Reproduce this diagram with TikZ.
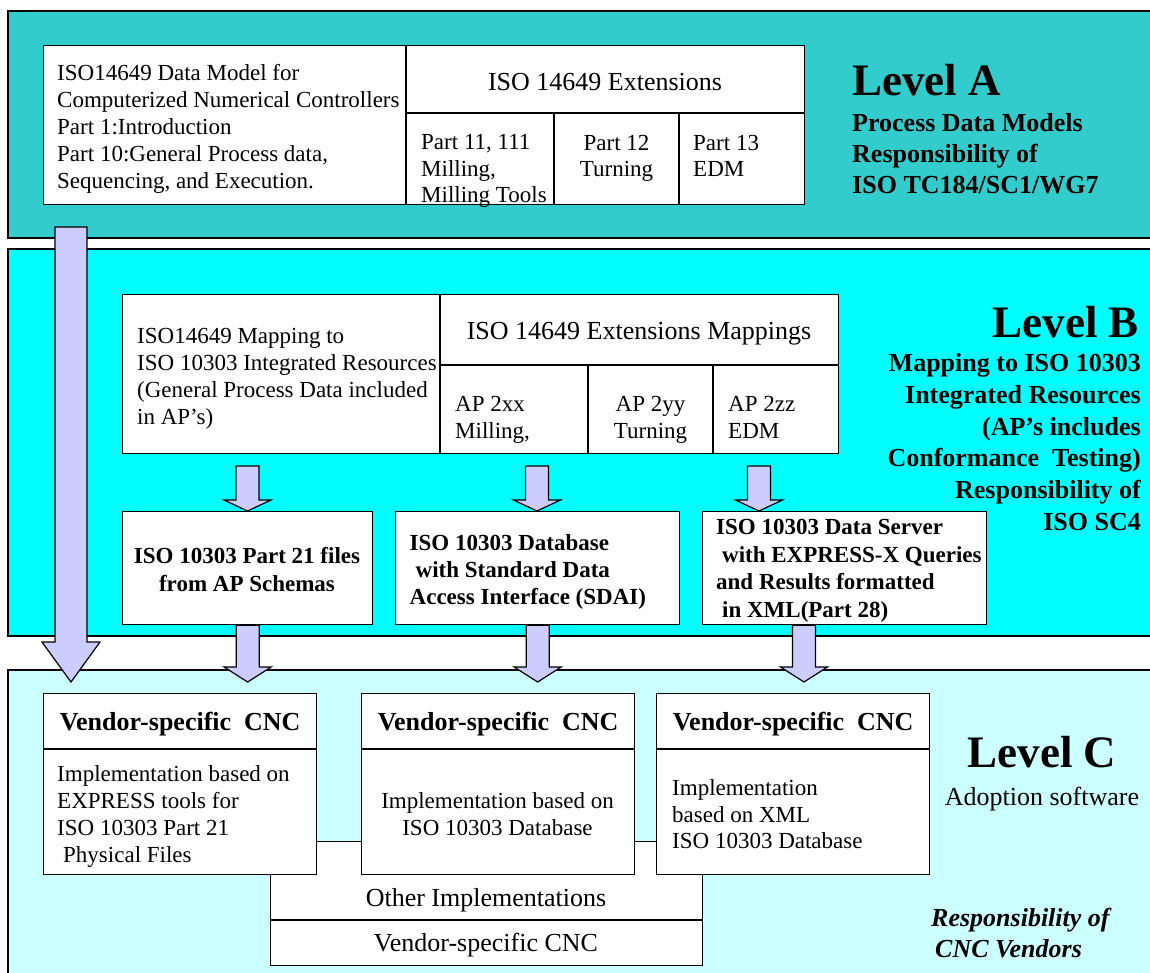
\documentclass[tikz,border=0pt]{standalone}
\usepackage{fontspec}
\setmainfont{Liberation Serif}
\usetikzlibrary{calc}

\definecolor{levelA}{HTML}{33CCCC}
\definecolor{levelB}{HTML}{00FFFF}
\definecolor{levelC}{HTML}{CCFFFF}
\definecolor{flow}{HTML}{CCCCFF}

\tikzset{
  panel/.style={draw=black, line width=1.6pt},
  grid/.style={draw=black, line width=1.3pt},
  boxnode/.style={draw=black, line width=1.3pt, fill=white, inner sep=0pt, anchor=north west},
  arrowshape/.style={fill=flow, draw=black, line width=1.2pt, line join=miter},
  body/.style={inner sep=0pt, yshift=-4pt, font=\fontsize{23}{27}\selectfont, align=left, execute at begin node=\strut},
  bodybf/.style={inner sep=0pt, yshift=-4pt, font=\fontsize{23}{27.5}\selectfont\bfseries, align=left, execute at begin node=\strut},
  head/.style={inner sep=0pt, font=\fontsize{26}{31}\selectfont},
  headbf/.style={inner sep=0pt, font=\fontsize{26}{31}\selectfont\bfseries},
  side/.style={inner sep=0pt, yshift=-4pt, font=\fontsize{26}{31}\selectfont\bfseries, execute at begin node=\strut},
  title/.style={inner sep=0pt, font=\fontsize{45}{50}\selectfont\bfseries},
}

% block arrow: start, tip, shaft half width, head half width, head length
\newcommand\blockarrow[5]{%
  \filldraw[arrowshape] let \p1=(#1), \p2=(#2) in
    (\x1-#3pt,\y1) -- (\x1-#3pt,\y2+#5pt) -- (\x1-#4pt,\y2+#5pt) -- (\x1,\y2)
    -- (\x1+#4pt,\y2+#5pt) -- (\x1+#3pt,\y2+#5pt) -- (\x1+#3pt,\y1) -- cycle;}

\begin{document}
\begin{tikzpicture}[x=1pt, y=-1pt]
\useasboundingbox (0,0) rectangle (1150,972);
\clip (0,0) rectangle (1150,972);

% ---------- level panels ----------
\filldraw[panel, fill=levelA] (8,11) rectangle (1165,238);
\filldraw[panel, fill=levelB] (8,249) rectangle (1165,636);
\filldraw[panel, fill=levelC] (8,670) rectangle (1165,995);

% ---------- Level A: ISO 14649 table ----------
\node[boxnode, minimum width=761pt, minimum height=159pt] (tA) at (43,45) {};
\draw[grid] (406,45) -- (406,204);
\draw[grid] (406,113) -- (804,113);
\draw[grid] (554,113) -- (554,204);
\draw[grid] (679,113) -- (679,204);

\node[body, anchor=north west] (a0) at (57,60.6)
  {ISO14649 Data Model for\\Computerized Numerical Controllers\\Part 1:Introduction\\Part 10:General Process data,\\Sequencing, and Execution.};
\node[head, anchor=base] (a1) at (605,90.6) {ISO 14649 Extensions};
\node[body, anchor=north west, font=\fontsize{23}{26.5}\selectfont] (a2) at (421,130.6) {Part 11, 111\\Milling,\\Milling Tools};
\node[body, anchor=north, align=center, font=\fontsize{23}{26.5}\selectfont] (a3) at (616.5,130.6) {Part 12\\Turning};
\node[body, anchor=north west, font=\fontsize{23}{26.5}\selectfont] (a4) at (693,130.6) {Part 13\\EDM};

\node[title, anchor=base west] (LA) at (852,95) {Level A};
\node[side, anchor=north west, align=left] (LAs) at (852,109)
  {Process Data Models\\Responsibility of\\ISO TC184/SC1/WG7};

% ---------- Level B: mapping table ----------
\node[boxnode, minimum width=716pt, minimum height=159pt] (tB) at (122,294) {};
\draw[grid] (440,294) -- (440,453);
\draw[grid] (440,365) -- (838,365);
\draw[grid] (588,365) -- (588,453);
\draw[grid] (713,365) -- (713,453);

\node[body, anchor=north west] (b0) at (137,323.6)
  {ISO14649 Mapping to\\ISO 10303 Integrated Resources\\(General Process Data included\\in AP’s)};
\node[head, anchor=base] (b1) at (639,339.6) {ISO 14649 Extensions Mappings};
\node[body, anchor=north west] (b2) at (455,391.6) {AP 2xx\\Milling,};
\node[body, anchor=north, align=center] (b3) at (650.5,391.6) {AP 2yy\\Turning};
\node[body, anchor=north west] (b4) at (728,391.6) {AP 2zz\\EDM};

\node[title, anchor=base east] (LB) at (1139,337) {Level B};
\node[side, anchor=north east, align=right, font=\fontsize{26}{31.8}\selectfont\bfseries] (LBs) at (1141,349.3)
  {Mapping to ISO 10303\\Integrated Resources\\(AP’s includes\hspace*{5pt}\\Conformance\ \ Testing)\hspace*{5pt}\\Responsibility of\\ISO SC4};

% ---------- Level B: realisation boxes ----------
\node[boxnode, minimum width=250pt, minimum height=113pt] (B1) at (122,511) {};
\node[boxnode, minimum width=284pt, minimum height=113pt] (B2) at (395,511) {};
\node[boxnode, minimum width=284pt, minimum height=113pt] (B3) at (702,511) {};

\node[bodybf, anchor=north, align=center, font=\fontsize{23}{28}\selectfont\bfseries] (B1t) at (247,543)
  {ISO 10303 Part 21 files\\from AP Schemas};
\node[bodybf, anchor=north west, font=\fontsize{23}{27}\selectfont\bfseries] (B2t) at (409.5,530.7)
  {ISO 10303 Database\\\hspace*{6pt}with Standard Data\\Access Interface (SDAI)};
\node[bodybf, anchor=north west] (B3t) at (716,515.3)
  {ISO 10303 Data Server\\\hspace*{6pt}with EXPRESS-X Queries\\and Results formatted\\\hspace*{6pt}in XML(Part 28)};

% ---------- Level C: vendor implementations ----------
\node[boxnode, minimum width=432pt, minimum height=124pt] (other) at (270,841) {};
\draw[grid] (270,920) -- (702,920);
\node[head, anchor=base] (o1) at (486,906.6) {Other Implementations};
\node[head, anchor=base] (o2) at (486,951.6) {Vendor-specific CNC};

\node[boxnode, minimum width=273pt, minimum height=181pt] (C1) at (43,693) {};
\node[boxnode, minimum width=273pt, minimum height=181pt] (C2) at (361,693) {};
\node[boxnode, minimum width=273pt, minimum height=181pt] (C3) at (656,693) {};
\foreach \c in {C1,C2,C3}{
  \draw[grid] ($(\c.north west)+(0,56)$) -- ($(\c.north east)+(0,56)$);
  \node[headbf, anchor=base] (\c h) at ($(\c.north)+(0,37.8)$) {Vendor-specific\ \ CNC};
}
\node[body, anchor=north west] (C1t) at (57,761.6)
  {Implementation based on\\EXPRESS tools for\\ISO 10303 Part 21\\\hspace*{6pt}Physical Files};
\node[body, anchor=north, align=center] (C2t) at (497.5,788.6)
  {Implementation based on\\ISO 10303 Database};
\node[body, anchor=north west, font=\fontsize{23}{26.5}\selectfont] (C3t) at (672,775.6)
  {Implementation\\based on XML\\ISO 10303 Database};

\node[title, anchor=base] (LC) at (1042,767) {Level C};
\node[head, anchor=base] (LCs) at (1042,805.6) {Adoption software};
\node[side, anchor=north west, align=left, font=\fontsize{26}{31}\selectfont\bfseries\itshape] (LCr) at (931,903.9)
  {Responsibility of\\\hspace*{4pt}CNC Vendors};

% ---------- flow arrows ----------
\coordinate (bigS) at (71,227);
\coordinate (bigE) at (71,682);
\blockarrow{bigS}{bigE}{16}{29}{40}

\coordinate (s1) at (247.5,466);
\coordinate (s2) at (537,466);
\coordinate (s3) at (759,466);
\blockarrow{s1}{s1 |- B1.north}{11.5}{23.5}{11}
\blockarrow{s2}{s2 |- B2.north}{11.5}{23.5}{11}
\blockarrow{s3}{s3 |- B3.north}{11.5}{23.5}{11}

\coordinate (t1) at (247.5,682);
\coordinate (t2) at (537,682);
\coordinate (t3) at (804,682);
\blockarrow{B1.south}{t1}{11.5}{23.5}{15}
\blockarrow{B2.south}{t2}{11.5}{23.5}{15}
\blockarrow{B3.south -| t3}{t3}{11.5}{23.5}{15}
\end{tikzpicture}
\end{document}
